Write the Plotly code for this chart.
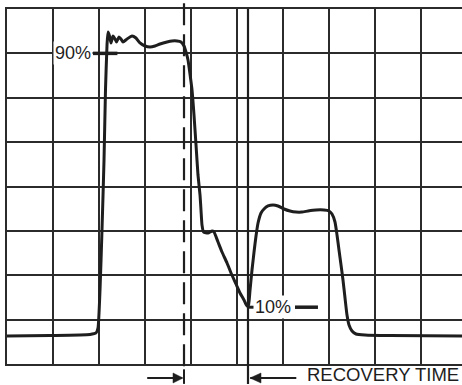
import plotly.graph_objects as go

# Waveform, in scope divisions (x: 0..10 horizontal, y: 0..8 vertical)
wave_x = [0.000, 0.935, 1.804, 1.935, 1.978, 2.022, 2.065, 2.109, 2.141, 2.174, 2.196, 2.228, 2.261,
          2.304, 2.348, 2.380, 2.435, 2.478, 2.522, 2.609, 2.717, 2.804, 2.891, 3.000, 3.109, 3.217,
          3.326, 3.478, 3.587, 3.696, 3.783, 3.848, 3.891, 3.935, 3.978, 4.022, 4.065, 4.109, 4.152,
          4.196, 4.217, 4.239, 4.272, 4.370, 4.457, 4.500, 4.587, 4.674, 4.783, 4.870, 4.978, 5.065,
          5.152, 5.217, 5.250, 5.283, 5.326, 5.370, 5.413, 5.457, 5.522, 5.587, 5.674, 5.783, 5.891,
          6.022, 6.152, 6.283, 6.413, 6.543, 6.717, 6.891, 7.000, 7.065, 7.130, 7.174, 7.217, 7.261,
          7.304, 7.348, 7.391, 7.435, 7.500, 7.587, 7.783, 8.326, 9.891]
wave_y = [0.631, 0.642, 0.665, 0.699, 0.811, 1.668, 3.020, 4.597, 6.175, 7.189, 7.482, 7.392, 7.234,
          7.392, 7.324, 7.256, 7.369, 7.324, 7.256, 7.324, 7.392, 7.346, 7.234, 7.166, 7.144, 7.166,
          7.211, 7.256, 7.279, 7.279, 7.256, 7.166, 7.031, 6.851, 6.535, 6.175, 5.611, 4.935, 4.259,
          3.808, 3.470, 3.132, 2.975, 2.952, 2.997, 2.975, 2.749, 2.524, 2.276, 2.051, 1.803, 1.600,
          1.442, 1.307, 1.330, 1.668, 2.118, 2.524, 2.885, 3.177, 3.403, 3.493, 3.561, 3.583, 3.561,
          3.493, 3.448, 3.425, 3.425, 3.448, 3.470, 3.470, 3.448, 3.380, 3.200, 2.907, 2.569, 2.231,
          1.893, 1.487, 1.104, 0.879, 0.744, 0.676, 0.654, 0.642, 0.631]

level_labels = ["90%", "10%"]
level_values = [7.0, 1.28]
marker_start = [1.87, 6.26]     # x where each level's thick dash starts
marker_end = [2.40, 6.76]
dashed_x = 3.848                # end of pulse reference (dashed line)
recovery_x = 5.239              # recovery point (solid line)
recovery_label = "RECOVERY TIME"

X_RANGE = [0, 9.891]
Y_RANGE = [0, 8]
INK = "#1e1e1e"
GRID = "#2b2b2b"
FONT = "Liberation Sans, Arial, Helvetica, sans-serif"

fig = go.Figure()
fig.add_trace(go.Scatter(x=wave_x, y=wave_y, mode="lines",
                         line=dict(color=INK, width=3, shape="spline", smoothing=0.5),
                         hoverinfo="skip", showlegend=False))

shapes = []
annotations = []

# level markers
for lab, val, x0, x1 in zip(level_labels, level_values, marker_start, marker_end):
    shapes.append(dict(type="line", xref="x", yref="y", x0=x0, x1=x1, y0=val, y1=val,
                       line=dict(color=INK, width=3.5), layer="above"))
    if lab == "90%":
        annotations.append(dict(x=x0, y=val, xref="x", yref="y", text=lab, showarrow=False,
                                xanchor="right", yanchor="middle", xshift=0,
                                font=dict(family=FONT, size=18, color=INK),
                                bgcolor="white", borderpad=1))
    else:
        annotations.append(dict(x=x0, y=val, xref="x", yref="y", text=lab, showarrow=False,
                                xanchor="right", yanchor="middle", xshift=-2,
                                font=dict(family=FONT, size=18, color=INK),
                                bgcolor="white", borderpad=1))
        # small tick attached to the recovery line
        shapes.append(dict(type="line", xref="x", yref="y", x0=recovery_x, x1=recovery_x + 0.13,
                           y0=val, y1=val, line=dict(color=INK, width=3), layer="above"))

# dashed vertical line (end of pulse)
shapes.append(dict(type="line", xref="x", yref="paper", x0=dashed_x, x1=dashed_x, y0=-0.006, y1=1.017,
                   line=dict(color=INK, width=2.2, dash="22px,9px"), layer="above"))
# solid recovery line
shapes.append(dict(type="line", xref="x", yref="paper", x0=recovery_x, x1=recovery_x, y0=-0.056, y1=1.0,
                   line=dict(color=INK, width=2.2), layer="above"))

# arrows below the plot
arrow_y = -0.0394
shapes.append(dict(type="line", xref="x", yref="paper", x0=dashed_x - 0.8, x1=dashed_x - 0.05,
                   y0=arrow_y, y1=arrow_y, line=dict(color=INK, width=2), layer="above"))
shapes.append(dict(type="line", xref="x", yref="paper", x0=dashed_x, x1=dashed_x, y0=-0.015, y1=-0.056,
                   line=dict(color=INK, width=2), layer="above"))
shapes.append(dict(type="path", xref="x", yref="paper", xsizemode="pixel", ysizemode="pixel",
                   xanchor=dashed_x, yanchor=arrow_y, path="M -1 0 L -11 -5 L -11 5 Z",
                   fillcolor=INK, line=dict(color=INK, width=0.5), layer="above"))
shapes.append(dict(type="line", xref="x", yref="paper", x0=recovery_x + 0.05, x1=recovery_x + 1.05,
                   y0=arrow_y, y1=arrow_y, line=dict(color=INK, width=2), layer="above"))
shapes.append(dict(type="path", xref="x", yref="paper", xsizemode="pixel", ysizemode="pixel",
                   xanchor=recovery_x, yanchor=arrow_y, path="M 2 0 L 13 -5 L 13 5 Z",
                   fillcolor=INK, line=dict(color=INK, width=0.5), layer="above"))
annotations.append(dict(x=recovery_x + 1.28, y=arrow_y, xref="x", yref="paper", text=recovery_label,
                        showarrow=False, xanchor="left", yanchor="middle", xshift=-2, yshift=3,
                        font=dict(family=FONT, size=18.5, color=INK)))

fig.update_layout(
    width=462, height=385,
    margin=dict(l=7, r=0, t=9, b=21, pad=0),
    paper_bgcolor="white", plot_bgcolor="white",
    shapes=shapes, annotations=annotations,
    xaxis=dict(range=X_RANGE, dtick=1, tick0=0, showgrid=True, gridcolor=GRID, gridwidth=1.7,
               showticklabels=False, ticks="", zeroline=False,
               showline=True, linecolor=GRID, linewidth=2, mirror=True, fixedrange=True),
    yaxis=dict(range=Y_RANGE, dtick=1, tick0=0, showgrid=True, gridcolor=GRID, gridwidth=1.7,
               showticklabels=False, ticks="", zeroline=False,
               showline=True, linecolor=GRID, linewidth=2, mirror=False, fixedrange=True),
)

fig.write_html("out.html", config={"displayModeBar": False},
               post_script="document.body.style.margin='0';document.body.style.overflow='hidden';")
